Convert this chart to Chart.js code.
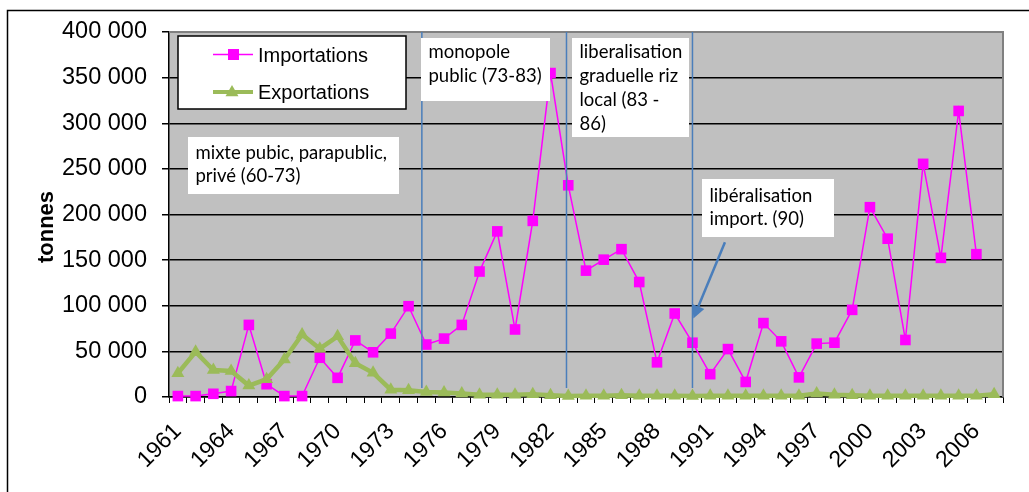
<!DOCTYPE html>
<html lang="fr">
<head>
<meta charset="utf-8">
<title>Riz : importations et exportations</title>
<script src="https://cdn.jsdelivr.net/npm/chart.js@4.4.1/dist/chart.umd.min.js"></script>
<style>
  html, body { margin: 0; padding: 0; background: #fff; }
  #cadre { width: 1029px; height: 492px; }
</style>
</head>
<body>
<div id="cadre"><canvas id="riz" width="1029" height="492"></canvas></div>
<script>
// années
const annees = ['1961','1962','1963','1964','1965','1966','1967','1968','1969','1970',
  '1971','1972','1973','1974','1975','1976','1977','1978','1979','1980',
  '1981','1982','1983','1984','1985','1986','1987','1988','1989','1990',
  '1991','1992','1993','1994','1995','1996','1997','1998','1999','2000',
  '2001','2002','2003','2004','2005','2006','2007'];

// années affichées sous l'axe
const anneesAffichees = ['1961','1964','1967','1970','1973','1976','1979','1982',
  '1985','1988','1991','1994','1997','2000','2003','2006'];

// tonnes importées
const importations = [1000, 1000, 3500, 6500, 79000, 14000, 1000, 1000, 43000, 21000,
  62000, 49000, 69500, 99500, 57500, 64000, 79000, 137500, 181500, 74000,
  193000, 355000, 232000, 138500, 150500, 162000, 126000, 38000, 91500, 59500,
  25000, 52500, 16500, 81000, 61000, 21500, 58500, 59500, 95500, 208000,
  173500, 62500, 255500, 152500, 313500, 156500, null];

// tonnes exportées
const exportations = [26000, 49500, 29500, 28500, 12500, 19500, 41000, 68500, 53000, 66500,
  37000, 26500, 8000, 7500, 5500, 5000, 3800, 2500, 2400, 2500,
  3000, 1800, 1000, 1500, 1500, 1800, 1500, 1500, 1500, 1200,
  1500, 1300, 1300, 1500, 1300, 1500, 3800, 2500, 2000, 1500,
  1300, 1300, 1300, 1500, 1300, 1500, 3000];

// graduations de l'axe vertical
const graduationsY = [0, 50000, 100000, 150000, 200000, 250000, 300000, 350000, 400000];

// ruptures de politique (en années)
const ruptures = [1974.75, 1982.9, 1990.0];

// encadrés de texte
const encadres = [
  { lignes: ['mixte pubic, parapublic,', 'privé (60-73)'], x: 188, y: 137, w: 211, h: 57, base: 22, pas: 23.4 },
  { lignes: ['monopole', 'public (73-83)'], x: 421, y: 38, w: 129, h: 63, base: 19.5, pas: 24 },
  { lignes: ['liberalisation', 'graduelle riz', 'local (83 -', '86)'], x: 572, y: 38, w: 117, h: 99, base: 19.5, pas: 24 },
  { lignes: ['libéralisation', 'import. (90)'], x: 702, y: 179, w: 132, h: 58, base: 22.5, pas: 23.4 }
];

// flèche vers 1990 (année, tonnes)
const fleche = { de: [1991.83, 169700], a: [1990.05, 86000] };

const ROSE = '#FF00FF';
const VERT = '#9BBB59';
const BLEU = '#4A7EBB';
const ARIAL = "'Liberation Sans', Arial, sans-serif";
const CALIBRI = "Lato, 'Noto Sans', sans-serif";

function milliers(v) {
  return String(v).replace(/\B(?=(\d{3})+(?!\d))/g, ' ');
}

function carre(ctx, x, y, c) {
  ctx.fillStyle = ROSE;
  ctx.fillRect(x - c / 2, y - c / 2, c, c);
}

function triangle(ctx, x, y, r) {
  ctx.fillStyle = VERT;
  ctx.beginPath();
  ctx.moveTo(x, y - r);
  ctx.lineTo(x + r * 0.866, y + r / 2);
  ctx.lineTo(x - r * 0.866, y + r / 2);
  ctx.closePath();
  ctx.fill();
}

// fond, cadres, légende, annotations
const decor = {
  id: 'decor',
  beforeDraw(chart) {
    const { ctx, chartArea: a } = chart;
    ctx.save();
    ctx.fillStyle = '#fff';
    ctx.fillRect(0, 0, chart.width, chart.height);
    ctx.strokeStyle = '#000';
    ctx.lineWidth = 1.5;
    ctx.strokeRect(7.5, 10.5, chart.width + 10, chart.height + 10);
    ctx.fillStyle = '#C0C0C0';
    ctx.fillRect(a.left, a.top, a.right - a.left, a.bottom - a.top);
    ctx.restore();
  },
  beforeDatasetsDraw(chart) {
    const { ctx, chartArea: a } = chart;
    ctx.save();
    ctx.strokeStyle = '#808080';
    ctx.lineWidth = 2;
    ctx.beginPath();
    ctx.moveTo(a.left, a.top);
    ctx.lineTo(a.right, a.top);
    ctx.lineTo(a.right, a.bottom);
    ctx.stroke();
    ctx.restore();
  },
  afterDatasetsDraw(chart) {
    const { ctx, scales } = chart;
    const x = scales.x, y = scales.y;
    ctx.save();

    // lignes verticales
    ctx.strokeStyle = BLEU;
    ctx.lineWidth = 1.5;
    ruptures.forEach(an => {
      const px = x.getPixelForValue(an - 1961);
      ctx.beginPath();
      ctx.moveTo(px, y.getPixelForValue(400000));
      ctx.lineTo(px, y.getPixelForValue(10000));
      ctx.stroke();
    });

    // encadrés
    ctx.font = '18.5px ' + CALIBRI;
    ctx.textBaseline = 'alphabetic';
    ctx.textAlign = 'left';
    encadres.forEach(e => {
      ctx.fillStyle = '#fff';
      ctx.fillRect(e.x, e.y, e.w, e.h);
      ctx.fillStyle = '#000';
      e.lignes.forEach((l, i) => ctx.fillText(l, e.x + 7.5, e.y + e.base + i * e.pas));
    });

    // flèche
    const x0 = x.getPixelForValue(fleche.de[0] - 1961), y0 = y.getPixelForValue(fleche.de[1]);
    const x1 = x.getPixelForValue(fleche.a[0] - 1961), y1 = y.getPixelForValue(fleche.a[1]);
    const ang = Math.atan2(y1 - y0, x1 - x0);
    const tete = 13;
    const bx = x1 - tete * Math.cos(ang), by = y1 - tete * Math.sin(ang);
    ctx.strokeStyle = BLEU;
    ctx.fillStyle = BLEU;
    ctx.lineWidth = 2.5;
    ctx.beginPath();
    ctx.moveTo(x0, y0);
    ctx.lineTo(bx, by);
    ctx.stroke();
    ctx.beginPath();
    ctx.moveTo(x1, y1);
    ctx.lineTo(bx + 6.5 * Math.sin(ang), by - 6.5 * Math.cos(ang));
    ctx.lineTo(bx - 6.5 * Math.sin(ang), by + 6.5 * Math.cos(ang));
    ctx.closePath();
    ctx.fill();

    // légende
    ctx.fillStyle = '#fff';
    ctx.fillRect(178, 36, 228, 73);
    ctx.strokeStyle = '#000';
    ctx.lineWidth = 1.5;
    ctx.strokeRect(178, 36, 228, 73);
    ctx.strokeStyle = ROSE;
    ctx.lineWidth = 1.5;
    ctx.beginPath(); ctx.moveTo(213, 54.5); ctx.lineTo(253, 54.5); ctx.stroke();
    carre(ctx, 233.5, 54.5, 11);
    ctx.strokeStyle = VERT;
    ctx.lineWidth = 4;
    ctx.beginPath(); ctx.moveTo(213, 92); ctx.lineTo(253, 92); ctx.stroke();
    triangle(ctx, 232, 92.5, 7.5);
    ctx.fillStyle = '#000';
    ctx.font = '20px ' + ARIAL;
    ctx.fillText(chart.data.datasets[0].label, 258, 61.5);
    ctx.fillText(chart.data.datasets[1].label, 258, 98.5);

    // titre de l'axe
    ctx.translate(47, 227);
    ctx.rotate(-Math.PI / 2);
    ctx.font = 'bold 22px ' + ARIAL;
    ctx.textAlign = 'center';
    ctx.textBaseline = 'middle';
    ctx.fillText('tonnes', 0, 0);
    ctx.restore();
  }
};

new Chart(document.getElementById('riz'), {
  type: 'line',
  data: {
    labels: annees,
    datasets: [
      {
        label: 'Importations',
        data: importations,
        borderColor: ROSE,
        backgroundColor: ROSE,
        borderWidth: 1.5,
        pointStyle: 'rect',
        pointRadius: 7.5,
        pointBorderWidth: 0,
        pointBackgroundColor: ROSE,
        tension: 0,
        clip: false,
        order: 1
      },
      {
        label: 'Exportations',
        data: exportations,
        borderColor: VERT,
        backgroundColor: VERT,
        borderWidth: 4.5,
        pointStyle: 'triangle',
        pointRadius: 7.5,
        pointBorderWidth: 0,
        pointBackgroundColor: VERT,
        tension: 0,
        clip: false,
        order: 0
      }
    ]
  },
  options: {
    responsive: false,
    animation: false,
    events: [],
    layout: { padding: { left: 0, top: 32, right: 26, bottom: 0 } },
    plugins: {
      legend: { display: false },
      tooltip: { enabled: false }
    },
    scales: {
      x: {
        offset: true,
        grid: {
          offset: true,
          drawOnChartArea: false,
          drawTicks: true,
          tickLength: 6,
          color: '#000',
          lineWidth: 1
        },
        border: { color: '#000', width: 1.5 },
        ticks: {
          autoSkip: false,
          minRotation: 45,
          maxRotation: 45,
          padding: 15,
          labelOffset: 0,
          color: '#000',
          font: { family: ARIAL, size: 23 },
          callback: function(v) {
            const l = this.getLabelForValue(v);
            return anneesAffichees.includes(l) ? l : '';
          }
        },
        afterFit: s => {
          s.height = 95;
          s.paddingLeft = 0;
          s.paddingRight = 0;
        }
      },
      y: {
        min: 0,
        max: 400000,
        afterBuildTicks: s => { s.ticks = graduationsY.map(v => ({ value: v })); },
        grid: {
          color: c => (c.tick && c.tick.value === 400000 ? '#808080' : '#000'),
          tickColor: '#000',
          lineWidth: 1.5,
          tickLength: 7
        },
        border: { color: '#000', width: 1.5 },
        ticks: {
          padding: 15,
          color: '#000',
          font: { family: ARIAL, size: 23.5 },
          callback: v => milliers(v)
        },
        afterFit: s => {
          s.width = 169;
          s.paddingTop = 0;
          s.paddingBottom = 0;
        }
      }
    }
  },
  plugins: [decor]
});
</script>
</body>
</html>
